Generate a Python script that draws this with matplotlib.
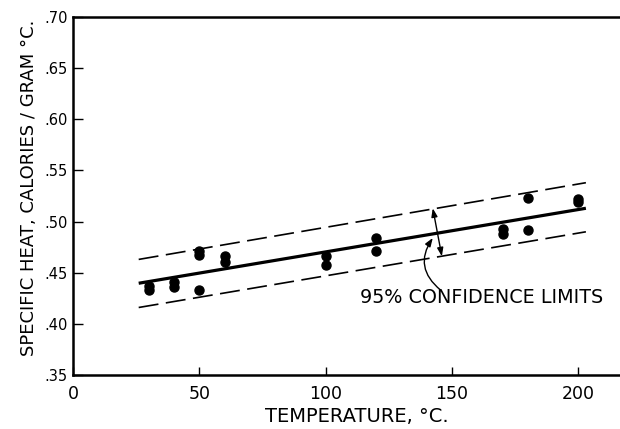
import matplotlib
matplotlib.use("Agg")
import matplotlib.pyplot as plt

# ---- data ----
temp_c = [30, 30, 40, 40, 50, 50, 50, 60, 60, 100, 100, 120, 120, 170, 170, 180, 180, 200, 200]
specific_heat = [0.437, 0.433, 0.441, 0.436, 0.471, 0.467, 0.433, 0.466, 0.460,
                 0.466, 0.458, 0.484, 0.471, 0.493, 0.488, 0.523, 0.492, 0.522, 0.519]

line_x = [26, 203]
fit_y = [0.4397, 0.513]
upper_y = [0.4630, 0.538]
lower_y = [0.4160, 0.490]

x_ticks = [0, 50, 100, 150, 200]
x_tick_labels = ["0", "50", "100", "150", "200"]
y_ticks = [0.35, 0.40, 0.45, 0.50, 0.55, 0.60, 0.65, 0.70]
y_tick_labels = [".35", ".40", ".45", ".50", ".55", ".60", ".65", ".70"]

plt.rcParams['font.family'] = ['DejaVu Sans']

fig = plt.figure(figsize=(6.2, 4.29), dpi=100)
ax = fig.add_axes([73/620, 1-375/429, 1-73/620, (375-17)/429])

ax.plot(line_x, fit_y, color='black', lw=2.3, solid_capstyle='butt')
ax.plot(line_x, upper_y, color='black', lw=1.2, dashes=(12, 4.5))
ax.plot(line_x, lower_y, color='black', lw=1.2, dashes=(12, 4.5))
ax.plot(temp_c, specific_heat, 'o', color='black', ms=6.5, mec='black')

# confidence interval arrow
ax.annotate('', xy=(142.4, 0.513), xytext=(146, 0.466),
            arrowprops=dict(arrowstyle='<|-|>,head_length=0.5,head_width=0.18',
                            color='black', lw=1.0, shrinkA=0, shrinkB=0))
# curved pointer from text
ax.annotate('', xy=(142.4, 0.484), xytext=(145.5, 0.433),
            arrowprops=dict(arrowstyle='-|>,head_length=0.5,head_width=0.18',
                            color='black', lw=1.0, shrinkA=0, shrinkB=0,
                            connectionstyle='arc3,rad=-0.45'))
ax.text(113.6, 0.4255, "95% CONFIDENCE LIMITS", fontsize=13.8, ha='left', va='center')

ax.set_xlim(0, 216.5)
ax.set_ylim(0.35, 0.70)
ax.set_xticks(x_ticks)
ax.set_xticklabels(x_tick_labels, fontsize=12.5)
ax.set_yticks(y_ticks)
ax.set_yticklabels(y_tick_labels, fontsize=10.5)
ax.tick_params(axis='x', direction='in', length=6, width=1, pad=7)
ax.tick_params(axis='y', direction='in', length=7, width=1, pad=4)
ax.tick_params(top=False, right=False)

for s in ['left', 'bottom', 'top']:
    ax.spines[s].set_linewidth(1.8)
ax.spines['right'].set_visible(False)

ax.set_xlabel("TEMPERATURE, °C.", fontsize=14)
ax.xaxis.set_label_coords(0.519, -0.088)
ax.set_ylabel("SPECIFIC HEAT, CALORIES / GRAM °C.", fontsize=13)
ax.yaxis.set_label_coords(-0.064, 0.522)

fig.savefig("out.png", dpi=100)
